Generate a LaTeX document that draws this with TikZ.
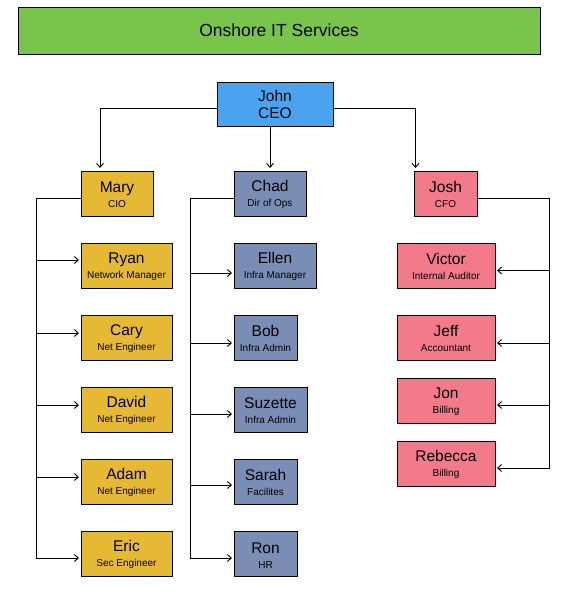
\documentclass[tikz,border=0pt]{standalone}
\usepackage{fontspec}
\setmainfont{Liberation Sans}
\usepackage{xcolor}
\usepackage{tikz}
\usetikzlibrary{arrows.meta,positioning}

\definecolor{titlegreen}{RGB}{121,196,74}
\definecolor{ceoblue}{RGB}{75,163,240}
\definecolor{cioyellow}{RGB}{229,185,52}
\definecolor{opsslate}{RGB}{122,141,180}
\definecolor{cfopink}{RGB}{242,122,138}

\newcommand{\who}[2]{{\fontsize{15.5}{15}\selectfont\rule{0pt}{14pt}#1}\\#2}

\begin{document}
\begin{tikzpicture}[x=1pt, y=-1pt,
    box/.style={draw, line width=0.9pt, align=center, inner sep=0pt, outer sep=0pt,
      minimum height=45pt, font=\fontsize{10}{15}\selectfont},
    cio/.style={box, fill=cioyellow},
    ops/.style={box, fill=opsslate},
    cfo/.style={box, fill=cfopink},
    wire/.style={line width=0.9pt},
    arr/.style={wire, -{Straight Barb[length=4pt,width=7pt]}, shorten >=2pt}
  ]
    \useasboundingbox (0,0) rectangle (576,607);

    \node[box, fill=titlegreen, minimum width=522pt, minimum height=47pt,
      font=\fontsize{17.5}{20}\selectfont] (title) at (279,30.5) {Onshore IT Services};
    \node[box, fill=ceoblue, minimum width=116pt, minimum height=44pt,
      font=\fontsize{15.5}{17}\selectfont] (john) at (275,104) {John\\CEO};

    \node[cio, minimum width=72pt] (mary) at (117,193.5) {\who{Mary}{CIO}};
    \node[ops, minimum width=72pt] (chad) at (270,193.5) {\who{Chad}{Dir of Ops}};
    \node[cfo, minimum width=63pt] (josh) at (445.5,193.5) {\who{Josh}{CFO}};

    % CIO team
    \node[cio, minimum width=91pt, below right=27pt and 0pt of mary.south west] (ryan) {\who{Ryan}{Network Manager}};
    \node[cio, minimum width=91pt, below=27pt of ryan] (cary) {\who{Cary}{Net Engineer}};
    \node[cio, minimum width=91pt, below=27pt of cary] (david) {\who{David}{Net Engineer}};
    \node[cio, minimum width=91pt, below=27pt of david] (adam) {\who{Adam}{Net Engineer}};
    \node[cio, minimum width=91pt, below=27pt of adam] (eric) {\who{Eric}{Sec Engineer}};

    % Ops team
    \node[ops, minimum width=82pt, below right=27pt and 0pt of chad.south west] (ellen) {\who{Ellen}{Infra Manager}};
    \node[ops, minimum width=63pt, below right=27pt and 0pt of ellen.south west] (bob) {\who{Bob}{Infra Admin}};
    \node[ops, minimum width=73pt, below right=27pt and 0pt of bob.south west] (suzette) {\who{Suzette}{Infra Admin}};
    \node[ops, minimum width=63pt, below right=27pt and 0pt of suzette.south west] (sarah) {\who{Sarah}{Facilites}};
    \node[ops, minimum width=63pt, below right=27pt and 0pt of sarah.south west] (ron) {\who{Ron}{HR}};

    % CFO team
    \node[cfo, minimum width=98pt, below right=27pt and -17pt of josh.south west] (victor) {\who{Victor}{Internal Auditor}};
    \node[cfo, minimum width=98pt, below=27pt of victor] (jeff) {\who{Jeff}{Accountant}};
    \node[cfo, minimum width=98pt, below=18pt of jeff] (jon) {\who{Jon}{Billing}};
    \node[cfo, minimum width=98pt, below=18pt of jon] (rebecca) {\who{Rebecca}{Billing}};

    \coordinate (mbus) at (36,0);
    \coordinate (cbus) at (190,0);
    \coordinate (jbus) at (549,0);

    \draw[arr, shorten >=3pt] ([yshift=-4pt]john.west) -| ([xshift=-17pt]mary.north);
    \draw[arr, shorten >=3pt] (john.south -| chad.north) -- (chad.north);
    \draw[arr, shorten >=3pt] ([yshift=-4pt]john.east) -| ([xshift=1.5pt]josh.north west);

    \draw[arr] ([yshift=-4.5pt]mary.west) -| ([yshift=-4.5pt]eric.west -| mbus) -- ([yshift=-4.5pt]eric.west);
    \draw[arr] ([yshift=5.5pt]ryan.west -| mbus) -- ([yshift=5.5pt]ryan.west);
    \draw[arr] ([yshift=4.5pt]cary.west -| mbus) -- ([yshift=4.5pt]cary.west);
    \draw[arr] ([yshift=4.5pt]david.west -| mbus) -- ([yshift=4.5pt]david.west);
    \draw[arr] ([yshift=4.5pt]adam.west -| mbus) -- ([yshift=4.5pt]adam.west);

    \draw[arr] ([yshift=-4.5pt]chad.west) -| ([yshift=-4.5pt]ron.west -| cbus) -- ([yshift=-4.5pt]ron.west);
    \draw[arr] ([yshift=-7.5pt]ellen.west -| cbus) -- ([yshift=-7.5pt]ellen.west);
    \draw[arr] ([yshift=-5.5pt]bob.west -| cbus) -- ([yshift=-5.5pt]bob.west);
    \draw[arr] ([yshift=-4.5pt]suzette.west -| cbus) -- ([yshift=-4.5pt]suzette.west);
    \draw[arr] ([yshift=-3.5pt]sarah.west -| cbus) -- ([yshift=-3.5pt]sarah.west);

    \draw[arr] ([yshift=-4.5pt]josh.east) -| ([yshift=-4.5pt]rebecca.east -| jbus) -- ([yshift=-4.5pt]rebecca.east);
    \draw[arr] ([yshift=-5pt]victor.east -| jbus) -- ([yshift=-5pt]victor.east);
    \draw[arr] ([yshift=-5.5pt]jeff.east -| jbus) -- ([yshift=-5.5pt]jeff.east);
    \draw[arr] ([yshift=-4.5pt]jon.east -| jbus) -- ([yshift=-4.5pt]jon.east);
  \end{tikzpicture}
\end{document}
